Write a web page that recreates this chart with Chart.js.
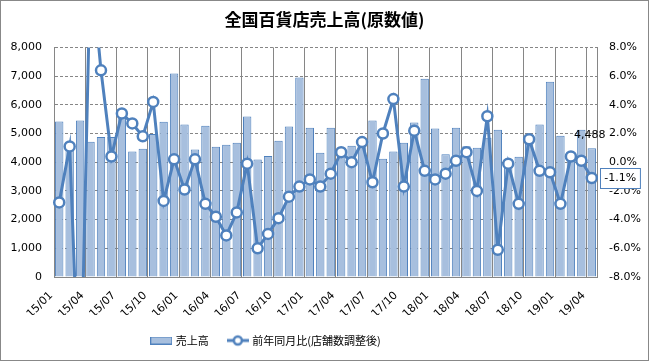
<!DOCTYPE html>
<html>
<head>
<meta charset="utf-8">
<script src="https://cdn.jsdelivr.net/npm/chart.js@4.4.0/dist/chart.umd.min.js"></script>
<style>
html, body { margin: 0; padding: 0; background: #fff; }
#wrap { width: 649px; height: 361px; box-sizing: border-box; border: 1px solid #888; }
canvas { display: block; }
</style>
</head>
<body>
<div id="wrap"><canvas id="chart" width="647" height="359"></canvas></div>
<script>
// 月 (15/01 - 19/04)
const months = ["15/01","15/02","15/03","15/04","15/05","15/06","15/07","15/08","15/09","15/10","15/11","15/12",
                "16/01","16/02","16/03","16/04","16/05","16/06","16/07","16/08","16/09","16/10","16/11","16/12",
                "17/01","17/02","17/03","17/04","17/05","17/06","17/07","17/08","17/09","17/10","17/11","17/12",
                "18/01","18/02","18/03","18/04","18/05","18/06","18/07","18/08","18/09","18/10","18/11","18/12",
                "19/01","19/02","19/03","19/04"];

// 売上高 (億円)
const sales = [5420, 4500, 5450, 4710, 4880, 4880, 5560, 4370, 4470, 4980, 5410, 7090,
               5310, 4440, 5270, 4540, 4610, 4680, 5590, 4090, 4220, 4750, 5240, 6950,
               5200, 4330, 5200, 4510, 4570, 4700, 5450, 4120, 4370, 4680, 5380, 6910,
               5170, 4280, 5200, 4560, 4500, 4850, 5130, 4110, 4190, 4780, 5310, 6800,
               4920, 4230, 5130, 4488];

// 前年同月比 (店舗数調整後, %)
const yoy = [-2.8, 1.1, -18.0, 14.1, 6.4, 0.4, 3.4, 2.7, 1.8, 4.2, -2.7, 0.2,
             -1.9, 0.2, -2.9, -3.8, -5.1, -3.5, -0.1, -6.0, -5.0, -3.9, -2.4, -1.7,
             -1.2, -1.7, -0.8, 0.7, 0.0, 1.4, -1.4, 2.0, 4.4, -1.7, 2.2, -0.6,
             -1.2, -0.8, 0.1, 0.7, -2.0, 3.2, -6.1, -0.1, -2.9, 1.6, -0.6, -0.7,
             -2.9, 0.4, 0.1, -1.1];

const salesAxis = { min: 0, max: 8000, step: 1000 };
const yoyAxis = { min: -8, max: 8, step: 2 };

const blue = '#4F81BD';
const barFill = '#A7BFDE';
const gridGrey = '#868686';

Chart.defaults.font.family = "'DejaVu Sans', sans-serif";
Chart.defaults.font.size = 11;
Chart.defaults.color = '#000';

// legend swatches
function barSwatch() {
  const c = document.createElement('canvas');
  c.width = 22; c.height = 8;
  const x = c.getContext('2d');
  x.fillStyle = barFill;
  x.fillRect(0, 0, 22, 8);
  x.strokeStyle = blue;
  x.lineWidth = 1;
  x.strokeRect(0.5, 0.5, 21, 7);
  return c;
}
function lineSwatch() {
  const c = document.createElement('canvas');
  c.width = 22; c.height = 14;
  const x = c.getContext('2d');
  x.strokeStyle = blue;
  x.lineWidth = 3;
  x.beginPath(); x.moveTo(0, 7); x.lineTo(22, 7); x.stroke();
  x.beginPath(); x.arc(11, 7, 4, 0, Math.PI * 2);
  x.fillStyle = '#fff'; x.fill();
  x.lineWidth = 2.5; x.stroke();
  return c;
}
const swatches = [barSwatch(), lineSwatch()];

const lastLabels = {
  id: 'lastLabels',
  afterDatasetsDraw(chart) {
    const ctx = chart.ctx;
    const n = sales.length - 1;
    const bar = chart.getDatasetMeta(0).data[n];
    const pt = chart.getDatasetMeta(1).data[n];
    ctx.save();
    ctx.font = "11px 'DejaVu Sans', sans-serif";
    ctx.fillStyle = '#000';
    ctx.textAlign = 'center';
    ctx.textBaseline = 'middle';
    ctx.fillText(sales[n].toLocaleString('en-US'), bar.x - 2, bar.y - 13);

    const txt = yoy[n].toFixed(1) + '%';
    const w = ctx.measureText(txt).width + 8;
    const bx = pt.x + 8, by = pt.y - 10;
    ctx.fillStyle = '#fff';
    ctx.fillRect(bx, by, w, 20);
    ctx.strokeStyle = blue;
    ctx.lineWidth = 1;
    ctx.strokeRect(Math.round(bx) + 0.5, Math.round(by) + 0.5, w, 20);
    ctx.fillStyle = '#000';
    ctx.fillText(txt, bx + w / 2 + 0.5, by + 10.5);
    ctx.restore();
  }
};

const legendShift = {
  id: 'legendShift',
  afterLayout(chart) {
    chart.legend.left -= 58;
    chart.legend.right -= 58;
  }
};

new Chart(document.getElementById('chart'), {
  data: {
    labels: months,
    datasets: [{
      type: 'bar',
      label: '売上高',
      data: sales,
      yAxisID: 'y',
      backgroundColor: barFill,
      borderColor: blue,
      borderWidth: 1,
      categoryPercentage: 1,
      barPercentage: 0.8,
      order: 2
    }, {
      type: 'line',
      label: '前年同月比(店舗数調整後)',
      data: yoy,
      yAxisID: 'y2',
      borderColor: blue,
      borderWidth: 3,
      pointRadius: 5,
      pointBorderWidth: 2.5,
      pointBackgroundColor: '#fff',
      pointBorderColor: blue,
      tension: 0,
      clip: { left: 8, right: 8, top: 0, bottom: 0 },
      order: 1
    }]
  },
  options: {
    responsive: false,
    devicePixelRatio: 1,
    animation: false,
    layout: { padding: { top: 0, left: 0, right: 0, bottom: 4 } },
    plugins: {
      title: {
        display: true,
        text: '全国百貨店売上高(原数値)',
        color: '#000',
        font: { family: "'Noto Sans CJK JP', sans-serif", size: 17, weight: 'bold' },
        padding: { top: 8, bottom: 18 }
      },
      legend: {
        position: 'bottom',
        labels: {
          font: { family: "'Noto Sans CJK JP', sans-serif", size: 11 },
          color: '#000',
          usePointStyle: true,
          pointStyleWidth: 18,
          boxHeight: 11,
          padding: 20,
          generateLabels(chart) {
            const items = Chart.defaults.plugins.legend.labels.generateLabels(chart);
            items.sort((a, b) => a.datasetIndex - b.datasetIndex);
            items.forEach(it => { it.pointStyle = swatches[it.datasetIndex]; });
            return items;
          }
        }
      },
      tooltip: { enabled: false }
    },
    scales: {
      x: {
        grid: {
          offset: true,
          drawTicks: false,
          color: ctx => (ctx.index % 3 === 0 ? gridGrey : 'rgba(0,0,0,0)'),
          lineWidth: 1
        },
        border: { color: gridGrey },
        ticks: {
          autoSkip: false,
          maxRotation: 45,
          minRotation: 45,
          padding: 12,
          labelOffset: -8,
          callback: (v, i) => (i % 3 === 0 ? months[i] : '')
        },
        afterFit: s => { s.height = 38; }
      },
      y: {
        position: 'left',
        min: salesAxis.min,
        max: salesAxis.max,
        ticks: { stepSize: salesAxis.step, padding: 12 },
        grid: { color: gridGrey, drawTicks: false },
        border: { color: gridGrey, dash: [3, 2] },
        afterFit: s => { s.width = 53; }
      },
      y2: {
        position: 'right',
        min: yoyAxis.min,
        max: yoyAxis.max,
        ticks: { stepSize: yoyAxis.step, padding: 12, callback: v => v.toFixed(1) + '%' },
        grid: { drawOnChartArea: false, drawTicks: false },
        border: { color: gridGrey },
        afterFit: s => { s.width = 51; }
      }
    }
  },
  plugins: [lastLabels, legendShift]
});
</script>
</body>
</html>
